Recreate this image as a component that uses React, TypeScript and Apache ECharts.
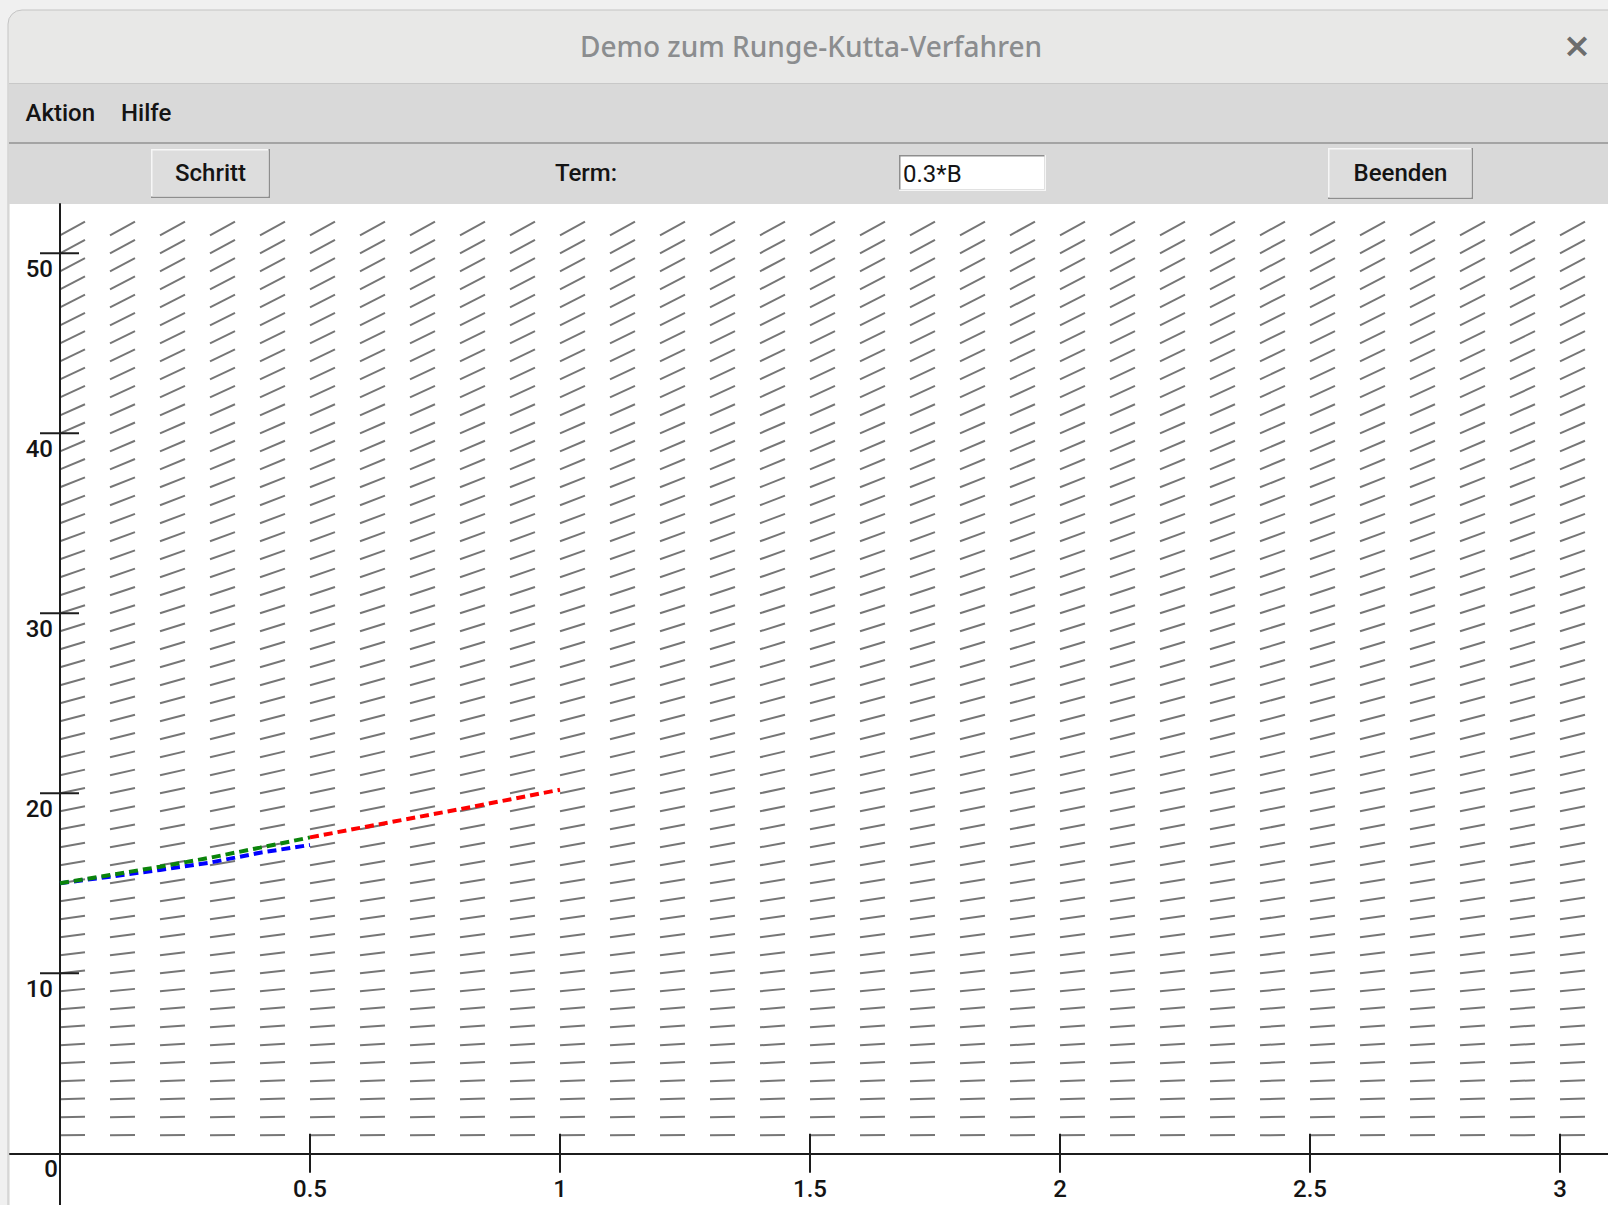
import { useEffect, useRef } from "react";
import * as echarts from "echarts";

// ---------- texts of the window ----------
const WINDOW_TITLE = "Demo zum Runge-Kutta-Verfahren";
const CLOSE_GLYPH = "×";
const MENU_ITEMS = ["Aktion", "Hilfe"];
const BUTTON_STEP = "Schritt";
const TERM_LABEL = "Term:";
const TERM_VALUE = "0.3*B";
const BUTTON_QUIT = "Beenden";

// ---------- slope field (term 0.3*B) ----------
const SLOPE_COEFF = 0.3;
const SEGMENT_DX = 0.05;
const FIELD_X = [
  0, 0.1, 0.2, 0.3, 0.4, 0.5, 0.6, 0.7, 0.8, 0.9, 1.0, 1.1, 1.2, 1.3, 1.4, 1.5,
  1.6, 1.7, 1.8, 1.9, 2.0, 2.1, 2.2, 2.3, 2.4, 2.5, 2.6, 2.7, 2.8, 2.9, 3.0,
];
const FIELD_B = [
  1, 2, 3, 4, 5, 6, 7, 8, 9, 10, 11, 12, 13, 14, 15, 16, 17, 18, 19, 20, 21, 22,
  23, 24, 25, 26, 27, 28, 29, 30, 31, 32, 33, 34, 35, 36, 37, 38, 39, 40, 41,
  42, 43, 44, 45, 46, 47, 48, 49, 50, 51,
];

// ---------- axes ----------
const X_TICKS = [0.5, 1, 1.5, 2, 2.5, 3];
const X_TICK_LABELS = ["0.5", "1", "1.5", "2", "2.5", "3"];
const Y_TICKS = [10, 20, 30, 40, 50];
const Y_TICK_LABELS = ["10", "20", "30", "40", "50"];
const ORIGIN_LABEL = "0";

// ---------- solution curves ----------
const GREEN_X = [0, 0.1, 0.2, 0.3, 0.4, 0.5];
const GREEN_B = [15.0, 15.46, 15.92, 16.42, 16.98, 17.55];
const BLUE_X = [0, 0.1, 0.2, 0.3, 0.4, 0.5];
const BLUE_B = [15.0, 15.37, 15.74, 16.15, 16.7, 17.13];
const RED_X = [0.5, 0.6, 0.7, 0.8, 0.9, 1.0];
const RED_B = [17.55, 18.08, 18.6, 19.12, 19.66, 20.2];

const UI_FONT = "Roboto, 'Liberation Sans', sans-serif";

function bevel(x: number, y: number, w: number, h: number, raised: boolean, face: string) {
  const dark = "#8e8e8e";
  const light = "#f6f6f6";
  return [
    { type: "rect", shape: { x, y, width: w, height: h }, style: { fill: raised ? dark : light } },
    { type: "rect", shape: { x, y, width: w - 1.5, height: h - 1.5 }, style: { fill: raised ? light : dark } },
    { type: "rect", shape: { x: x + 1.5, y: y + 1.5, width: w - 3, height: h - 3 }, style: { fill: face } },
  ];
}

export default function App() {
  const ref = useRef<HTMLDivElement>(null);

  useEffect(() => {
    document.body.style.margin = "0";
    const chart = echarts.init(ref.current!, null, { renderer: "svg" });

    const fieldData: number[][] = [];
    FIELD_X.forEach((x) => FIELD_B.forEach((b) => fieldData.push([x, b])));

    const uiText = (text: string, x: number, y: number, align: string, size = 24, weight: any = 500, color = "#141414") => ({
      type: "text",
      style: {
        text,
        x,
        y,
        fill: color,
        font: `${weight} ${size}px ${UI_FONT}`,
        textAlign: align,
        textVerticalAlign: "middle",
      },
    });

    const graphic: any[] = [
      // window frame and title bar
      {
        type: "rect",
        shape: { x: 8, y: 10, width: 1640, height: 1230, r: [14, 14, 0, 0] },
        style: { fill: "#e8e8e7", stroke: "#c4c4c4", lineWidth: 1 },
      },
      // drawing canvas
      { type: "rect", shape: { x: 10, y: 204, width: 1600, height: 1005 }, style: { fill: "#ffffff" } },
      {
        type: "text",
        style: {
          text: WINDOW_TITLE,
          x: 811,
          y: 46,
          fill: "#8b8d8f",
          font: "500 28px 'Noto Sans', 'Open Sans', sans-serif",
          textAlign: "center",
          textVerticalAlign: "middle",
        },
      },
      {
        type: "text",
        style: {
          text: CLOSE_GLYPH,
          x: 1577,
          y: 45,
          fill: "#6d6d6d",
          font: "bold 34px 'DejaVu Sans', sans-serif",
          textAlign: "center",
          textVerticalAlign: "middle",
        },
      },
      { type: "rect", shape: { x: 9, y: 83, width: 1610, height: 1.5 }, style: { fill: "#c8c8c8" } },
      // menu bar
      { type: "rect", shape: { x: 9, y: 84.5, width: 1610, height: 57.5 }, style: { fill: "#d9d9d9" } },
      uiText(MENU_ITEMS[0], 25.5, 113, "left"),
      uiText(MENU_ITEMS[1], 121, 113, "left"),
      { type: "rect", shape: { x: 9, y: 142, width: 1610, height: 2 }, style: { fill: "#a4a4a4" } },
      // toolbar
      { type: "rect", shape: { x: 9, y: 144, width: 1610, height: 60 }, style: { fill: "#d9d9d9" } },
      ...bevel(151, 149, 119, 49, true, "#dddddd"),
      uiText(BUTTON_STEP, 210.5, 173, "center"),
      uiText(TERM_LABEL, 586, 173, "center"),
      ...bevel(899, 155, 147, 36, false, "#ffffff"),
      uiText(TERM_VALUE, 903, 173.5, "left", 24, 400),
      ...bevel(1328, 148, 145, 51, true, "#dddddd"),
      uiText(BUTTON_QUIT, 1400.5, 173, "center"),
    ];

    const option: any = {
      animation: false,
      backgroundColor: "#f0f0f0",
      grid: {
        left: 10,
        right: 0,
        top: 204,
        bottom: 0,
        show: false,
      },
      xAxis: {
        type: "value",
        min: -0.1,
        max: 3.096,
        axisLine: { show: true, onZero: true, lineStyle: { color: "#1c1c1c", width: 2 } },
        axisTick: { show: false },
        axisLabel: { show: false },
        splitLine: { show: false },
        z: 4,
      },
      yAxis: {
        type: "value",
        min: -2.872,
        max: 52.739,
        axisLine: { show: true, onZero: true, lineStyle: { color: "#1c1c1c", width: 2 } },
        axisTick: { show: false },
        axisLabel: { show: false },
        splitLine: { show: false },
        z: 4,
      },
      graphic,
      series: [
        {
          type: "custom",
          name: "Richtungsfeld",
          silent: true,
          z: 2,
          data: fieldData,
          renderItem: (_params: any, api: any) => {
            const x = api.value(0);
            const b = api.value(1);
            const p1 = api.coord([x, b]);
            const p2 = api.coord([x + SEGMENT_DX, b + SLOPE_COEFF * b * SEGMENT_DX]);
            return {
              type: "line",
              shape: { x1: p1[0], y1: p1[1], x2: p2[0], y2: p2[1] },
              style: { stroke: "#767676", lineWidth: 2 },
            };
          },
        },
        {
          type: "custom",
          name: "xTicks",
          silent: true,
          z: 3,
          data: X_TICKS.map((v) => [v, 0]),
          renderItem: (params: any, api: any) => {
            const p = api.coord([api.value(0), 0]);
            return {
              type: "group",
              children: [
                {
                  type: "line",
                  shape: { x1: p[0], y1: p[1] - 19.5, x2: p[0], y2: p[1] + 19.5 },
                  style: { stroke: "#1c1c1c", lineWidth: 2 },
                },
                {
                  type: "text",
                  style: {
                    text: X_TICK_LABELS[params.dataIndex],
                    x: p[0],
                    y: p[1] + 36,
                    fill: "#141414",
                    font: `500 24px ${UI_FONT}`,
                    textAlign: "center",
                    textVerticalAlign: "middle",
                  },
                },
              ],
            };
          },
        },
        {
          type: "custom",
          name: "yTicks",
          silent: true,
          z: 3,
          data: Y_TICKS.map((v) => [0, v]),
          renderItem: (params: any, api: any) => {
            const p = api.coord([0, api.value(1)]);
            return {
              type: "group",
              children: [
                {
                  type: "line",
                  shape: { x1: p[0] - 20, y1: p[1], x2: p[0] + 19, y2: p[1] },
                  style: { stroke: "#1c1c1c", lineWidth: 2 },
                },
                {
                  type: "text",
                  style: {
                    text: Y_TICK_LABELS[params.dataIndex],
                    x: p[0] - 7,
                    y: p[1] + 16,
                    fill: "#141414",
                    font: `500 24px ${UI_FONT}`,
                    textAlign: "right",
                    textVerticalAlign: "middle",
                  },
                },
              ],
            };
          },
        },
        {
          type: "custom",
          name: "origin",
          silent: true,
          z: 3,
          data: [[0, 0]],
          renderItem: (_params: any, api: any) => {
            const p = api.coord([0, 0]);
            return {
              type: "text",
              style: {
                text: ORIGIN_LABEL,
                x: p[0] - 2,
                y: p[1] + 16,
                fill: "#141414",
                font: `500 24px ${UI_FONT}`,
                textAlign: "right",
                textVerticalAlign: "middle",
              },
            };
          },
        },
        {
          type: "line",
          name: "blau",
          z: 5,
          showSymbol: false,
          silent: true,
          data: BLUE_X.map((x, i) => [x, BLUE_B[i]]),
          lineStyle: { color: "#0000ff", width: 4, type: [9, 5] },
        },
        {
          type: "line",
          name: "grün",
          z: 6,
          showSymbol: false,
          silent: true,
          data: GREEN_X.map((x, i) => [x, GREEN_B[i]]),
          lineStyle: { color: "#0b840b", width: 4, type: [9, 5] },
        },
        {
          type: "line",
          name: "rot",
          z: 7,
          showSymbol: false,
          silent: true,
          data: RED_X.map((x, i) => [x, RED_B[i]]),
          lineStyle: { color: "#ff0000", width: 4, type: [9, 5] },
        },
      ],
    };

    chart.setOption(option);
    return () => chart.dispose();
  }, []);

  return (
    <div
      ref={ref}
      style={{ position: "fixed", left: 0, top: 0, width: 1608, height: 1205 }}
    />
  );
}
